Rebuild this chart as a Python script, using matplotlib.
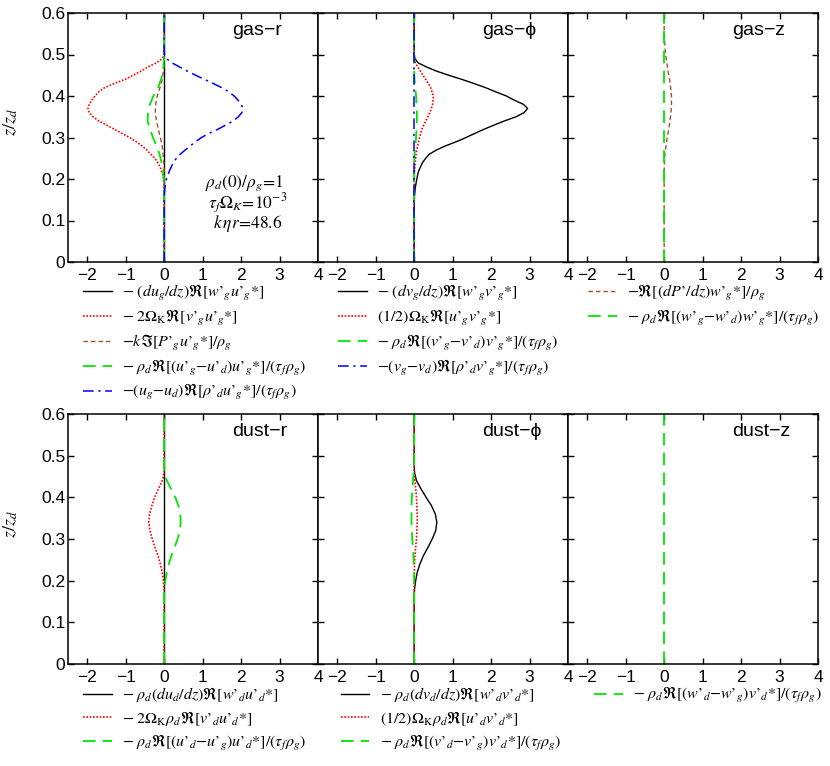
import numpy as np
import matplotlib.pyplot as plt

plt.rcParams['font.family'] = ['Liberation Sans', 'DejaVu Sans']
plt.rcParams['mathtext.fontset'] = 'stix'

# heights z/z_d where the curves were read (coarse grid)
z = [0.00, 0.14, 0.16, 0.18, 0.20, 0.22, 0.24, 0.26, 0.28, 0.30, 0.32, 0.34,
     0.36, 0.38, 0.40, 0.42, 0.44, 0.46, 0.48, 0.50, 0.52, 0.54, 0.56, 0.60]
zero = [0.0] * len(z)

# finer grid for the large curves
zf = [0.00, 0.14, 0.15, 0.16, 0.17, 0.18, 0.19, 0.20, 0.21, 0.22, 0.23, 0.24,
      0.25, 0.26, 0.27, 0.28, 0.29, 0.30, 0.31, 0.32, 0.33, 0.34, 0.35, 0.36,
      0.37, 0.38, 0.39, 0.40, 0.41, 0.42, 0.43, 0.44, 0.45, 0.46, 0.47, 0.48,
      0.49, 0.50, 0.51, 0.52, 0.60]

# gas-r
gas_r_black = zero
gas_r_red = [0, 0, 0, 0, 0, 0, 0, -0.01, -0.03, -0.07, -0.11, -0.17,
             -0.24, -0.35, -0.45, -0.58, -0.73, -0.90, -1.10, -1.30, -1.50, -1.70, -1.85, -1.95,
             -1.98, -1.95, -1.88, -1.80, -1.70, -1.55, -1.30, -1.02, -0.80, -0.60, -0.42, -0.20,
             -0.05, 0, 0, 0, 0]
gas_r_brown = [0, 0, 0, 0, 0, 0, -0.01, -0.03, -0.05, -0.10, -0.15, -0.20,
               -0.23, -0.22, -0.18, -0.11, -0.05, -0.02, 0, 0, 0, 0, 0, 0]
gas_r_green = [0, 0, 0, -0.005, -0.01, -0.03, -0.07, -0.12, -0.20, -0.29, -0.37, -0.43,
               -0.42, -0.37, -0.28, -0.16, -0.08, -0.03, -0.01, 0, 0, 0, 0, 0]
gas_r_blue = [0, 0, 0, 0, 0.01, 0.02, 0.04, 0.06, 0.10, 0.14, 0.19, 0.24,
              0.32, 0.42, 0.55, 0.68, 0.82, 0.97, 1.17, 1.40, 1.60, 1.80, 1.93, 2.02,
              2.05, 2.00, 1.92, 1.82, 1.68, 1.50, 1.28, 1.05, 0.82, 0.60, 0.40, 0.20,
              0.06, 0.01, 0, 0, 0]

# gas-phi
gas_p_black = [0, 0, 0, 0.01, 0.02, 0.03, 0.05, 0.07, 0.09, 0.12, 0.17, 0.22,
               0.30, 0.40, 0.58, 0.82, 1.10, 1.35, 1.58, 1.82, 2.08, 2.35, 2.65, 2.86,
               2.95, 2.84, 2.60, 2.40, 2.12, 1.86, 1.56, 1.24, 0.90, 0.58, 0.32, 0.10,
               0.02, 0, 0, 0, 0]
gas_p_red = [0, 0, 0, 0, 0, 0.01, 0.03, 0.05, 0.09, 0.14, 0.20, 0.30,
             0.41, 0.48, 0.50, 0.43, 0.30, 0.16, 0.03, 0, 0, 0, 0, 0]
gas_p_green = [0, 0, 0, 0, 0, 0, 0, 0.01, 0.03, 0.05, 0.06, 0.07,
               0.07, 0.06, 0.05, 0.03, 0.01, 0, 0, 0, 0, 0, 0, 0]
gas_p_blue = zero

# gas-z
gas_z_brown = [0, 0, 0, 0, 0, 0, 0.01, 0.02, 0.05, 0.08, 0.12, 0.15,
               0.18, 0.19, 0.19, 0.17, 0.14, 0.10, 0.07, 0.04, 0.02, 0.01, 0, 0]
gas_z_green = zero

# dust-r
dust_r_black = zero
dust_r_red = [0, 0, 0, 0, -0.02, -0.05, -0.10, -0.16, -0.24, -0.31, -0.37, -0.40,
              -0.38, -0.32, -0.25, -0.15, -0.05, 0, 0, 0, 0, 0, 0, 0]
dust_r_green = [0, 0, 0, 0, 0.03, 0.07, 0.12, 0.19, 0.27, 0.35, 0.41, 0.43,
                0.42, 0.37, 0.29, 0.18, 0.07, 0.01, 0, 0, 0, 0, 0, 0]

# dust-phi
dust_p_black = [0, 0, 0, 0.01, 0.04, 0.08, 0.15, 0.24, 0.36, 0.47, 0.56, 0.59,
                0.55, 0.45, 0.31, 0.18, 0.06, 0.01, 0, 0, 0, 0, 0, 0]
dust_p_red = [0, 0, 0, 0, 0, 0.005, 0.01, 0.02, 0.04, 0.06, 0.07, 0.08,
              0.08, 0.07, 0.06, 0.04, 0.02, 0, 0, 0, 0, 0, 0, 0]
dust_p_green = [0, 0, 0, 0, 0, 0, -0.01, -0.02, -0.03, -0.05, -0.06, -0.07,
                -0.07, -0.07, -0.06, -0.04, -0.03, -0.01, 0, 0, 0, 0, 0, 0]

# dust-z
dust_z_green = zero

xticks = [-2, -1, 0, 1, 2, 3, 4]
yticks = [0, 0.1, 0.2, 0.3, 0.4, 0.5, 0.6]

K = dict(color='k', ls='-', lw=1.0)
R = dict(color='#ff0000', ls=(0, (1, 1)), lw=1.2)
B = dict(color='#a0522d', ls=(0, (3.2, 2.2)), lw=1.0)
G = dict(color='#00e600', ls=(0, (7, 4)), lw=1.3)
U = dict(color='#0000ff', ls=(0, (7, 3, 1.5, 3)), lw=1.1)

panels = [
    ('gas\u2212r', [(gas_r_black, z, K, r"$-\ (du_g/dz)\Re[w’_gu’_g{*}]$"),
                    (gas_r_red, zf, R, r"$-\ 2\Omega_{\rm K}\Re[v’_gu’_g{*}]$"),
                    (gas_r_brown, z, B, r"$-k\Im[P’_gu’_g{*}]/\rho_g$"),
                    (gas_r_green, z, G, r"$-\ \rho_d\Re[(u’_g{-}u’_d)u’_g{*}]/(\tau_f\rho_g)$"),
                    (gas_r_blue, zf, U, r"$-(u_g{-}u_d)\Re[\rho’_du’_g{*}]/(\tau_f\rho_g)$")], 0.06),
    ('gas\u2212\u03d5', [(gas_p_black, zf, K, r"$-\ (dv_g/dz)\Re[w’_gv’_g{*}]$"),
                         (gas_p_red, z, R, r"$(1/2)\Omega_{\rm K}\Re[u’_gv’_g{*}]$"),
                         (gas_p_green, z, G, r"$-\ \rho_d\Re[(v’_g{-}v’_d)v’_g{*}]/(\tau_f\rho_g)$"),
                         (gas_p_blue, z, U, r"$-(v_g{-}v_d)\Re[\rho’_dv’_g{*}]/(\tau_f\rho_g)$")], 0.08),
    ('gas\u2212z', [(gas_z_brown, z, B, r"$-\Re[(dP’/dz)w’_g{*}]/\rho_g$"),
                    (gas_z_green, z, G, r"$-\ \rho_d\Re[(w’_g{-}w’_d)w’_g{*}]/(\tau_f\rho_g)$")], 0.08),
    ('dust\u2212r', [(dust_r_black, z, K, r"$-\ \rho_d(du_d/dz)\Re[w’_du’_d{*}]$"),
                     (dust_r_red, z, R, r"$-\ 2\Omega_{\rm K}\rho_d\Re[v’_du’_d{*}]$"),
                     (dust_r_green, z, G, r"$-\ \rho_d\Re[(u’_d{-}u’_g)u’_d{*}]/(\tau_f\rho_g)$")], 0.06),
    ('dust\u2212\u03d5', [(dust_p_black, z, K, r"$-\ \rho_d(dv_d/dz)\Re[w’_dv’_d{*}]$"),
                          (dust_p_red, z, R, r"$(1/2)\Omega_{\rm K}\rho_d\Re[u’_dv’_d{*}]$"),
                          (dust_p_green, z, G, r"$-\ \rho_d\Re[(v’_d{-}v’_g)v’_d{*}]/(\tau_f\rho_g)$")], 0.09),
    ('dust\u2212z', [(dust_z_green, z, G, r"$-\ \rho_d\Re[(w’_d{-}w’_g)v’_d{*}]/(\tau_f\rho_g)$")], 0.105),
]

fig = plt.figure(figsize=(8.3, 7.66), dpi=100)
lefts = [68 / 830, 318 / 830, 568 / 830]
w = 250 / 830
rows = [(1 - 262 / 766, 249 / 766), (1 - 664 / 766, 250 / 766)]

for i, (title, curves, lx) in enumerate(panels):
    r, c = divmod(i, 3)
    ax = fig.add_axes([lefts[c], rows[r][0], w, rows[r][1]])
    for vals, zz, st, lab in curves:
        ax.plot(vals, zz, label=lab, **st)
    ax.set_xlim(-2.5, 4)
    ax.set_ylim(0, 0.6)
    ax.set_xticks(xticks)
    ax.set_xticklabels(['\u22122', '\u22121', '0', '1', '2', '3', '4'])
    ax.set_yticks(yticks)
    ax.tick_params(direction='in', top=True, right=True, length=4, width=1,
                   labelsize=12.5)
    ax.tick_params(axis='x', pad=4)
    ax.tick_params(axis='y', pad=2)
    for s in ax.spines.values():
        s.set_linewidth(1.1)
    if c == 0:
        ax.set_yticklabels(['0', '0.1', '0.2', '0.3', '0.4', '0.5', '0.6'])
        ax.set_ylabel(r'$z/z_d$', fontsize=13)
        ax.yaxis.set_label_coords(-0.19, 0.56)
    else:
        ax.set_yticklabels([])
    ax.text(0.655, 0.93, title, transform=ax.transAxes, fontsize=14,
            ha='left', va='center')
    ax.legend(loc='upper left', bbox_to_anchor=(lx, -0.085), frameon=False,
              fontsize=11.5, handlelength=1.8, handletextpad=0.65,
              labelspacing=0.3, borderpad=0, borderaxespad=0)
    if i == 0:
        ax.text(3.1, 0.19, r"$\rho_d(0)/\rho_g\!=\!1$", fontsize=12.5, ha='right', va='center')
        ax.text(3.2, 0.142, r"$\tau_f\Omega_K\!=\!10^{-3}$", fontsize=12.5, ha='right', va='center')
        ax.text(3.08, 0.092, r"$k\,\eta r\!=\!48.6$", fontsize=12.5, ha='right', va='center')

fig.savefig('out.png', dpi=100)
